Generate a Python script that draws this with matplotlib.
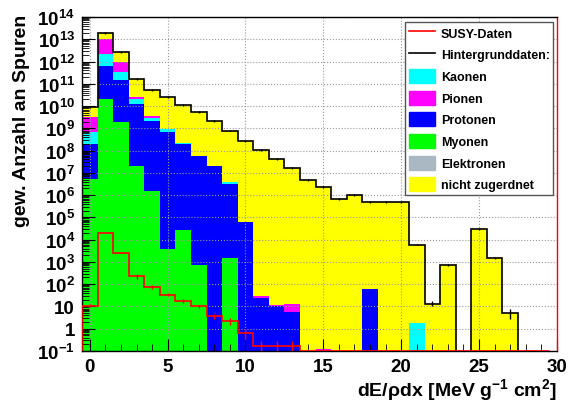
import numpy as np
import matplotlib
matplotlib.use("Agg")
import matplotlib.pyplot as plt
from matplotlib.lines import Line2D
from matplotlib.patches import Patch
from matplotlib.ticker import LogLocator, MultipleLocator, NullFormatter

plt.rcParams['font.family'] = ['Liberation Sans', 'DejaVu Sans']
plt.rcParams['font.weight'] = 'bold'
plt.rcParams['axes.labelweight'] = 'bold'
plt.rcParams['mathtext.fontset'] = 'custom'
plt.rcParams['mathtext.rm'] = 'Liberation Sans:bold'
plt.rcParams['mathtext.it'] = 'Liberation Sans:bold'
plt.rcParams['mathtext.bf'] = 'Liberation Sans:bold'

# dE/rho dx histogram, 1 MeV g^-1 cm^2 bins centred on 0..29
bin_edges = np.arange(-0.5, 30.0, 1.0)
bin_centers = np.arange(0, 30)

# weighted track counts per particle type (stacked)
elektronen = [0, 0, 0, 0, 0, 0, 0, 0, 0, 0, 0, 0, 0, 0, 0,
              0, 0, 0, 0, 0, 0, 0, 0, 0, 0, 0, 0, 0, 0, 0]
myonen = [5.5e6, 2.1e10, 1.9e9, 2.1e7, 1.6e6, 4.0e3, 2.6e4, 7.0e2, 0, 1.5e3,
          0, 0, 0, 0, 0, 0, 0, 0, 0, 0, 0, 0, 0, 0, 0, 0, 0, 0, 0, 0]
protonen = [1.9e8, 6.4e11, 1.5e11, 1.26e10, 2.2e9, 6.8e8, 2.0e8, 6.0e7, 2.1e7, 3.2e6,
            6.2e4, 25, 10, 5.4, 0, 0, 0, 0, 63, 0, 0, 0, 0, 0, 0, 0, 0, 0, 0, 0]
kaonen = [4.9e8, 1.5e12, 1.8e11, 8.3e9, 7.0e8, 2.1e8, 1.0e7, 0, 0, 6.0e5,
          0, 0, 0, 0, 0, 0, 0, 0, 0, 0, 0, 1.8, 0, 0, 0, 0, 0, 0, 0, 0]
pionen = [2.6e9, 8.0e12, 6.0e11, 4.0e9, 6.0e8, 0, 0, 0, 0, 0,
          0, 4, 2, 7, 0, 0.12, 0, 0, 0, 0, 0, 0, 0, 0, 0, 0, 0, 0, 0, 0]
nicht_zugeordnet = [5.8e9, 8.8e12, 1.8e12, 1.4e11, 5.1e10, 2.4e10, 1.1e10, 5.5e9, 2.2e9, 7.9e8,
                    2.8e8, 1.1e8, 4.3e7, 1.6e7, 4.8e6, 2.4e6, 6.8e5, 1.05e6, 4.9e5, 4.9e5,
                    4.9e5, 6.0e3, 13.5, 7.0e2, 0, 3.1e4, 1.55e3, 5.1, 0, 0]
total_err = [6e8, 1.5e12, 2.5e11, 1.5e10, 5e9, 2.5e9, 1e9, 5e8, 2e8, 7e7,
             2.5e7, 1e7, 4e6, 1.5e6, 4e5, 2e5, 6e4, 9e4, 4e4, 4e4,
             4e4, 5e2, 3.5, 70, 0, 2.5e3, 1.5e2, 2.4, 0, 0]

# signal sample
susy = [11, 2.0e4, 2.6e3, 2.3e2, 76, 34, 18, 10, 3.6, 2.2,
        0.66, 0.17, 0.17, 0.17, 0, 0, 0, 0, 0, 0, 0, 0, 0, 0, 0, 0, 0, 0, 0, 0]
susy_err = [1.5, 6e2, 2e2, 50, 15, 5, 3, 1.5, 0.9, 0.7,
            0.3, 0.1, 0.1, 0.1, 0, 0, 0, 0, 0, 0, 0, 0, 0, 0, 0, 0, 0, 0, 0, 0]

layers = [
    ("Elektronen", elektronen, "#aab8c4"),
    ("Myonen", myonen, "#00ff00"),
    ("Protonen", protonen, "#0000ff"),
    ("Kaonen", kaonen, "#00ffff"),
    ("Pionen", pionen, "#ff00ff"),
    ("nicht zugerdnet", nicht_zugeordnet, "#ffff00"),
]

y_ticks = [10.0 ** k for k in range(-1, 15)]
y_tick_labels = ['$10^{-1}$', '1', '10'] + ['$10^{%d}$' % k for k in range(2, 15)]
x_ticks = [0, 5, 10, 15, 20, 25, 30]

ymin, ymax = 0.1, 1e14
floor = 1e-3

fig = plt.figure(figsize=(5.7, 4.1), dpi=100)
ax = fig.add_axes([0.1439, 0.1415, 0.833, 0.8145])

# stacked fills
bottom = np.full(30, floor)
for name, vals, col in layers:
    top = bottom + np.array(vals, dtype=float)
    ax.stairs(top, bin_edges, baseline=bottom, fill=True, color=col, lw=0, zorder=1)
    bottom = top

total = bottom - floor
ax.stairs(np.maximum(total, floor), bin_edges, color='black', lw=1.2, zorder=3)
ax.errorbar(bin_centers, total, yerr=total_err, fmt='none', ecolor='black', elinewidth=1.0, zorder=3)

ax.stairs(np.maximum(susy, ymin), bin_edges, color='red', lw=1.2, zorder=4)
susy = np.array(susy)
m = susy > 0
ax.errorbar(bin_centers[m], susy[m], yerr=np.array(susy_err)[m], fmt='none',
            ecolor='red', elinewidth=1.0, zorder=4)

ax.set_yscale('log')
ax.set_xlim(-0.5, 30)
ax.set_ylim(ymin, ymax)
ax.set_yticks(y_ticks)
ax.set_yticklabels(y_tick_labels)
ax.yaxis.set_minor_locator(LogLocator(base=10, subs=np.arange(2, 10), numticks=40))
ax.yaxis.set_minor_formatter(NullFormatter())
ax.set_xticks(x_ticks)
ax.xaxis.set_minor_locator(MultipleLocator(1))

ax.tick_params(which='both', direction='in', top=False, right=False, labelsize=13.5)
ax.tick_params(which='major', length=9, width=0.8)
ax.tick_params(which='minor', length=5, width=0.6)
ax.tick_params(axis='y', pad=5)
ax.tick_params(axis='x', pad=5)

ax.grid(True, which='major', linestyle=':', color='#999999', linewidth=0.8)
for g in ax.get_xgridlines() + ax.get_ygridlines():
    g.set_zorder(0.5)

for s in ax.spines.values():
    s.set_linewidth(1.0)
ax.spines['right'].set_color('red')

ax.set_xlabel('dE/ρdx [MeV g$^{-1}$ cm$^{2}$]', fontsize=14, ha='right', va='top')
ax.xaxis.set_label_coords(1.0, -0.075)
ax.set_ylabel('gew. Anzahl an Spuren', fontsize=14, ha='right')
ax.yaxis.set_label_coords(-0.11, 1.01)

handles = [
    Line2D([], [], color='red', lw=1.2),
    Line2D([], [], color='black', lw=1.2),
    Patch(color='#00ffff'),
    Patch(color='#ff00ff'),
    Patch(color='#0000ff'),
    Patch(color='#00ff00'),
    Patch(color='#aab8c4'),
    Patch(color='#ffff00'),
]
labels = ['SUSY-Daten', 'Hintergrunddaten:', 'Kaonen', 'Pionen', 'Protonen',
          'Myonen', 'Elektronen', 'nicht zugerdnet']
leg = ax.legend(handles, labels, loc='upper left', bbox_to_anchor=(0.681, 0.986, 0.31, 0.0),
                mode='expand', fontsize=9, handlelength=2.1, handleheight=1.35,
                labelspacing=0.6, handletextpad=0.45, borderpad=0.3, borderaxespad=0,
                fancybox=False, framealpha=1, edgecolor='#555555')
leg.get_frame().set_linewidth(1.0)
leg.set_zorder(5)

fig.savefig('out.png', dpi=100)
